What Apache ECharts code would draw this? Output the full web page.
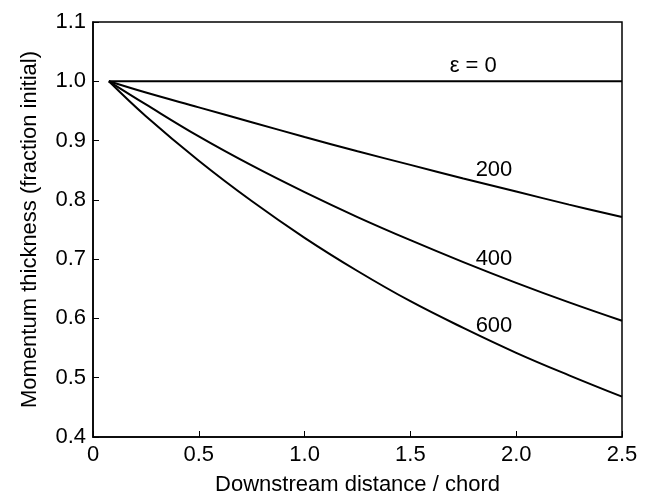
<!DOCTYPE html>
<html>
<head>
<meta charset="utf-8">
<script src="https://cdn.jsdelivr.net/npm/echarts@6/dist/echarts.min.js"></script>
<style>html,body{margin:0;padding:0;background:#fff}#c{width:655px;height:501px}</style>
</head>
<body>
<div id="c"></div>
<script>
const xValues = [0.075, 0.25, 0.5, 0.75, 1.0, 1.25, 1.5, 1.75, 2.0, 2.25, 2.5];
const eps0   = [1.0, 1.0, 1.0, 1.0, 1.0, 1.0, 1.0, 1.0, 1.0, 1.0, 1.0];
const eps200 = [1.0, 0.981, 0.956, 0.931, 0.906, 0.882, 0.859, 0.836, 0.814, 0.792, 0.771];
const eps400 = [1.0, 0.961, 0.907, 0.858, 0.813, 0.771, 0.732, 0.695, 0.660, 0.627, 0.596];
const eps600 = [1.0, 0.941, 0.866, 0.798, 0.736, 0.680, 0.629, 0.584, 0.542, 0.504, 0.468];
const curveLabels = ['ε = 0', '200', '400', '600'];
const labelX = [1.797, 1.895, 1.895, 1.895];
const labelY = [1.026, 0.851, 0.700, 0.588];
const xTicks = ['0', '0.5', '1.0', '1.5', '2.0', '2.5'];
const yTicks = ['0.4', '0.5', '0.6', '0.7', '0.8', '0.9', '1.0', '1.1'];

const FONT = 'Liberation Sans, Arial, Helvetica, sans-serif';
const FS = 22;
const pair = arr => xValues.map((x, i) => [x, arr[i]]);
const lineSeries = arr => ({
  type: 'line', data: pair(arr), showSymbol: false, smooth: 0.4,
  lineStyle: { color: '#000', width: 2 }, silent: true, z: 3
});

const chart = echarts.init(document.getElementById('c'), null, { renderer: 'canvas' });
chart.setOption({
  animation: false,
  backgroundColor: '#fff',
  grid: { left: 93, right: 33, top: 22, bottom: 62, show: true, borderColor: '#000', borderWidth: 1.5, backgroundColor: 'transparent' },
  xAxis: {
    type: 'value', min: 0, max: 2.5, interval: 0.5,
    name: 'Downstream distance / chord', nameLocation: 'middle', nameGap: 37,
    nameTextStyle: { color: '#000', fontSize: FS, fontFamily: FONT },
    axisLine: { show: true, lineStyle: { color: '#000', width: 1.5 } },
    axisTick: { show: true, inside: true, length: 6, lineStyle: { color: '#000' } },
    axisLabel: { color: '#000', fontSize: FS, fontFamily: FONT, margin: 7,
      formatter: v => xTicks[Math.round(v / 0.5)] },
    splitLine: { show: false }
  },
  yAxis: {
    type: 'value', min: 0.4, max: 1.1, interval: 0.1,
    name: 'Momentum thickness (fraction initial)', nameLocation: 'middle', nameGap: 52,
    nameTextStyle: { color: '#000', fontSize: FS, fontFamily: FONT },
    axisLine: { show: true, lineStyle: { color: '#000', width: 1.5 } },
    axisTick: { show: true, inside: true, length: 6, lineStyle: { color: '#000' } },
    axisLabel: { color: '#000', fontSize: FS, fontFamily: FONT, margin: 7,
      formatter: v => yTicks[Math.round((v - 0.4) / 0.1)] },
    splitLine: { show: false }
  },
  series: [
    lineSeries(eps0), lineSeries(eps200), lineSeries(eps400), lineSeries(eps600),
    {
      type: 'scatter', symbolSize: 0, silent: true, z: 4,
      data: curveLabels.map((t, i) => ({ value: [labelX[i], labelY[i]], name: t })),
      label: { show: true, position: 'inside', formatter: p => p.name,
        color: '#000', fontSize: FS, fontFamily: FONT, textBorderWidth: 0, opacity: 1 }
    }
  ]
});
</script>
</body>
</html>
